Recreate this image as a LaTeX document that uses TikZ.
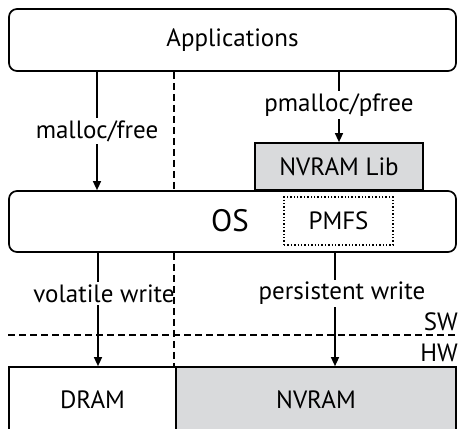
\documentclass[tikz,border=0pt]{standalone}
\usepackage{fontspec}
\setmainfont{PT Sans}
\usetikzlibrary{arrows.meta,calc}
\definecolor{boxgray}{HTML}{D9DADC}
\tikzset{
  layer/.style={draw, line width=0.85pt, rounded corners=4pt, minimum width=223.5pt, inner sep=0pt},
  plain/.style={draw, line width=0.85pt, inner sep=0pt},
  txt/.style={font=\fontsize{12.5}{14}\selectfont},
  lbl/.style={fill=white, inner sep=1.2pt, txt},
  arr/.style={line width=0.7pt, -{Triangle[length=4.5pt,width=4pt]}},
  divider/.style={line width=0.7pt, dash pattern=on 3.5pt off 2pt},
}
\begin{document}
\begin{tikzpicture}[x=0.5pt, y=-0.5pt]
  \useasboundingbox (0,0) rectangle (470,428);
  % software layers
  \node[layer, minimum height=31pt, txt] (apps) at (232.5,40) {Applications};
  \node[layer, minimum height=30.5pt] (os) at (232.5,221.5) {};
  \node[font=\fontsize{15.5}{17}\selectfont] (oslabel) at (230,221) {OS};
  \node[plain, fill=boxgray, minimum width=84pt, minimum height=23.5pt, txt] (lib) at (339,166.5) {NVRAM Lib};
  \node[draw, line width=0.7pt, densely dotted, minimum width=54.5pt, minimum height=24pt, inner sep=0pt, txt] (pmfs) at (338.5,221) {PMFS};
  % memory devices
  \node[plain, minimum width=83.5pt, minimum height=33pt, txt] (dram) at (92.5,400) {DRAM};
  \node[plain, fill=boxgray, minimum width=140pt, minimum height=33pt, txt] (nvram) at (316,400) {NVRAM};
  % column positions of the connectors
  \coordinate (c1) at (97,0);
  \coordinate (c2) at (339,0);
  \coordinate (c3) at (98,0);
  \coordinate (c4) at (335,0);
  \coordinate (c5) at (174,0);
  % calls and writes
  \draw[arr] (apps.south -| c1) -- node[lbl] {malloc/free} (os.north -| c1);
  \draw[arr] (apps.south -| c2) -- node[lbl, pos=0.47] {pmalloc/pfree} (lib.north -| c2);
  \draw[arr] (os.south -| c3) -- node[lbl, pos=0.36, xshift=3pt] {volatile write} (dram.north -| c3);
  \draw[arr] (os.south -| c4) -- node[lbl, pos=0.36, xshift=3.5pt] {persistent write} (nvram.north -| c4);
  % DRAM / NVRAM split
  \draw[divider] (apps.south -| c5) -- (os.north -| c5);
  \draw[divider] (os.south -| c5) -- (dram.north -| c5);
  % software / hardware boundary
  \coordinate (bl) at (8,335);
  \coordinate (br) at (456,335);
  \draw[divider] (bl) -- (br);
  \node[txt, anchor=east] (sw) at (465,322) {SW};
  \node[txt, anchor=east] (hw) at (465,353) {HW};
\end{tikzpicture}
\end{document}
